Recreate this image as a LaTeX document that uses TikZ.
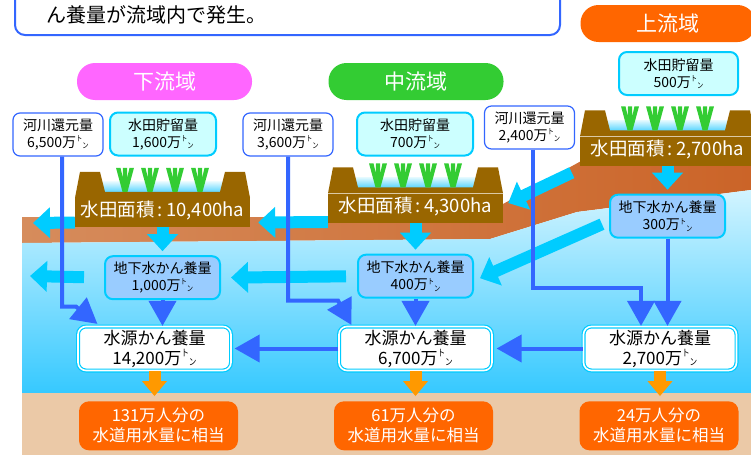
\documentclass[tikz,border=0pt]{standalone}
\usepackage{fontspec}
\setmainfont{Noto Sans CJK JP}
\usepackage{graphicx}
\usetikzlibrary{arrows.meta,positioning}

\definecolor{rivblue}{HTML}{3366FF}
\definecolor{seep}{HTML}{00CCFF}
\definecolor{paddybr}{HTML}{996600}
\definecolor{sprout}{HTML}{33CC33}
\definecolor{gwfill}{HTML}{99CCFF}
\definecolor{pondfill}{HTML}{CCFFFF}
\definecolor{useor}{HTML}{FF6600}
\definecolor{dropor}{HTML}{FF9900}
\definecolor{lowpink}{HTML}{FF66FF}
\definecolor{soilA}{HTML}{D68C5C}
\definecolor{soilB}{HTML}{CB6428}
\definecolor{aqtop}{HTML}{D2F4FF}
\definecolor{aqbot}{HTML}{36C9FF}
\definecolor{sand}{HTML}{EBC9A7}
\definecolor{pondtop}{HTML}{E2F9FF}
\definecolor{pondbot}{HTML}{5CD6FF}

% small トン after 万
\newcommand{\tonmark}{\raisebox{.42em}{\scalebox{.45}[.55]{ト}}\raisebox{-.08em}{\scalebox{.45}[.55]{ン}}}

\begin{document}
\begin{tikzpicture}[x=1pt, y=-1pt,
      txt/.style={font=\fontsize{14}{17}\selectfont, align=center, inner sep=0pt},
      retbox/.style={txt, draw=rivblue, line width=1.2pt, fill=white, rounded corners=7pt, minimum width=90pt, minimum height=43pt},
      pondbox/.style={txt, draw=seep, line width=2pt, fill=pondfill, rounded corners=8pt, minimum height=43pt},
      gwbox/.style={txt, draw=seep, line width=2pt, fill=gwfill, rounded corners=8pt, minimum width=115pt, minimum height=43pt},
      srcbox/.style={font=\fontsize{17}{20}\selectfont, align=center, inner sep=0pt, draw=seep, double=white, double distance=1.6pt, line width=1.2pt, fill=white, rounded corners=8pt, minimum width=153pt, minimum height=44pt},
      outbox/.style={font=\fontsize{16.5}{20}\selectfont, align=center, inner sep=0pt, text=white, fill=useor, rounded corners=10pt, minimum width=159pt, minimum height=49pt},
      basin/.style={font=\fontsize{21}{21}\selectfont, text=white, rounded corners=18pt, minimum width=175pt, minimum height=37pt},
      fieldlabel/.style={font=\fontsize{18.5}{20}\selectfont, text=white, fill=paddybr, minimum width=175pt, minimum height=29pt, inner sep=0pt, text height=12pt, text depth=4pt},
      flow/.style={draw=rivblue, line width=4pt, -{Triangle[length=25pt,width=27pt]}},
      seepage/.style={draw=seep, line width=12pt, -{Triangle[length=17pt,width=30pt]}},
      supply/.style={draw=dropor, line width=12pt, -{Triangle[length=15pt,width=24pt]}},
      paddy/.pic={
        \shade[top color=pondtop, bottom color=pondbot] (-60,-16) rectangle (60,-6);
        \fill[paddybr] (-87.5,0) -- (-82.5,-26) -- (-62.5,-26) -- (-57.5,-6) -- (57.5,-6)
          -- (62.5,-26) -- (82.5,-26) -- (87.5,0) -- cycle;
        \foreach \px in {-37.5,-12.5,12.5,37.5}
          \fill[sprout, shift={(\px,0)}] (-9,-30) -- (-4.5,-30) -- (-2.2,-20) -- (-2,-30) -- (2,-30)
            -- (2.2,-20) -- (4.5,-30) -- (9,-30) -- (2.5,-6) -- (-2.5,-6) -- cycle;
      }
    ]
  \useasboundingbox (0,0) rectangle (751,455);
  \clip (0,0) rectangle (751,455);

  % ground layers
  \shade[left color=soilA, right color=soilB] (22,217) -- (400,217) -- (503,204) -- (583,160) -- (751,160)
    -- (751,190) -- (577,212) -- (490,239) -- (22,243) -- cycle;
  \shade[top color=aqtop, bottom color=aqbot] (22,243) -- (490,239) -- (577,212) -- (751,190)
    -- (751,393) -- (22,393) -- cycle;
  \fill[sand] (22,393) rectangle (751,455);

  \draw[draw=rivblue, line width=2pt, fill=white, rounded corners=10pt] (15,-30) rectangle (560,35);
  \node[anchor=west, font=\fontsize{20}{20}\selectfont] (note) at (43,15) {ん養量が流域内で発生。};

  \node[basin, fill=useor] (up) at (668,23.5) {上流域};
  \node[basin, fill=lowpink] (down) at (164.5,81.5) {下流域};
  \node[basin, fill=sprout] (mid) at (416,81.5) {中流域};

  \node[retbox] (retL) at (58,134.5) {河川還元量\\6,500万\tonmark};
  \node[pondbox, minimum width=106pt] (pondL) at (163,134) {水田貯留量\\1,600万\tonmark};
  \node[retbox] (retM) at (288,134.5) {河川還元量\\3,600万\tonmark};
  \node[pondbox, minimum width=116pt] (pondM) at (415,134) {水田貯留量\\700万\tonmark};
  \node[retbox] (retR) at (529.5,127.5) {河川還元量\\2,400万\tonmark};
  \node[pondbox, minimum width=119pt] (pondR) at (678.5,73.5) {水田貯留量\\500万\tonmark};

  \node[fieldlabel] (padL) at (162.5,212.5) {水田面積\,:\,10,400ha};
  \node[fieldlabel] (padM) at (415.5,208) {水田面積\,:\,4,300ha};
  \node[fieldlabel] (padR) at (667.5,151) {水田面積\,:\,2,700ha};
  \pic at (padL.north) {paddy};
  \pic at (padM.north) {paddy};
  \pic at (padR.north) {paddy};

  \node[gwbox, below=28pt of padL] (gwL) {地下水かん養量\\1,000万\tonmark};
  \node[gwbox, below=31pt of padM] (gwM) {地下水かん養量\\400万\tonmark};
  \node[gwbox, below=28pt of padR] (gwR) {地下水かん養量\\300万\tonmark};

  \node[srcbox] (srcL) at (154.5,348.5) {水源かん養量\\14,200万\tonmark};
  \node[srcbox] (srcM) at (415.5,348.5) {水源かん養量\\6,700万\tonmark};
  \node[srcbox] (srcR) at (660,348.5) {水源かん養量\\2,700万\tonmark};

  \node[outbox, below=30pt of srcL, xshift=4pt] (outL) {131万人分の\\水道用水量に相当};
  \node[outbox, below=30pt of srcM, xshift=-2pt] (outM) {61万人分の\\水道用水量に相当};
  \node[outbox, below=30pt of srcR, xshift=-1pt] (outR) {24万人分の\\水道用水量に相当};

  % seepage
  \coordinate (soilEnd) at (33,223);
  \coordinate (gwEnd) at (30,276);
  \draw[seepage] ([yshift=-10pt]padL.west) -- (soilEnd);
  \draw[seepage] ([yshift=-14pt]padM.west) -- ([xshift=8pt,yshift=-10pt]padL.east);
  \draw[seepage, shorten >=4pt] (padL.south) -- (gwL.north);
  \draw[seepage, shorten >=4pt] (padM.south) -- (gwM.north);
  \draw[seepage, shorten >=4pt] (padR.south) -- (gwR.north);
  \draw[seepage, shorten <=20pt] (gwL.west) -- (gwEnd);
  \draw[seepage, shorten <=11pt, shorten >=10pt] (gwM.west) -- (gwL.east);
  \draw[seepage] ([shift={(-8pt,-7pt)}]padR.south west) -- ([shift={(5pt,5pt)}]padM.east);
  \draw[seepage] ([shift={(-7pt,-8pt)}]gwR.west) -- ([shift={(6pt,-2pt)}]gwM.east);

  % river return and recharge
  \draw[flow] ([xshift=4pt]retL.south) -- ++(0,150) -- ++(14,0) -- ([xshift=20pt,yshift=2pt]srcL.north west);
  \draw[flow] (retM.south) -- ++(0,144) -- ++(50,0) -- ([xshift=13pt,yshift=1pt]srcM.north west);
  \draw[flow] ([xshift=3pt]retR.south) -- ++(0,138) -| ([xshift=-19pt]srcR.north);
  \draw[flow] (gwL.south) -- (gwL.south |- srcL.north);
  \draw[flow] (gwM.south) -- (gwM.south |- srcM.north);
  \draw[flow] (gwR.south) -- (gwR.south |- srcR.north);
  \draw[flow, shorten >=4pt] (srcR.west) -- (srcM.east);
  \draw[flow, shorten >=3pt] (srcM.west) -- (srcL.east);

  \draw[supply, shorten >=5pt] (srcL.south) -- (srcL.south |- outL.north);
  \draw[supply, shorten >=5pt] (srcM.south) -- (srcM.south |- outM.north);
  \draw[supply, shorten >=5pt] (srcR.south) -- (srcR.south |- outR.north);
\end{tikzpicture}
\end{document}
